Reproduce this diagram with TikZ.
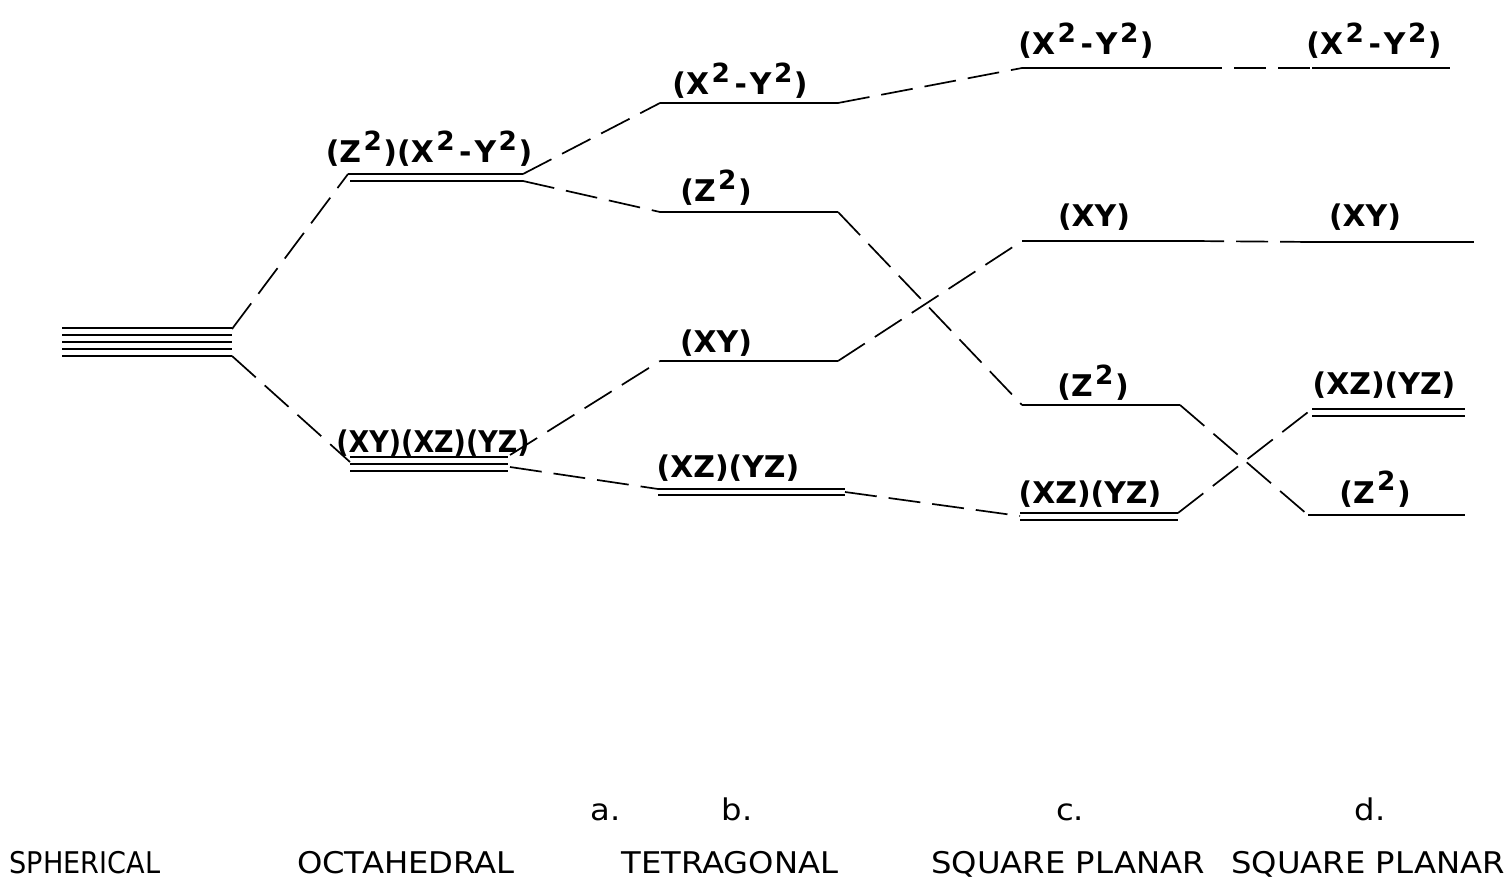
\documentclass[tikz,border=0pt]{standalone}
\usepackage{fontspec}
\setmainfont{DejaVu Sans}
\newfontfamily\capfont[FakeStretch=1.08]{DejaVu Sans}
\usetikzlibrary{calc}
\newcommand{\sqtwo}{\kern0.25mm\raisebox{1.25mm}{\fontsize{7.5}{7.5}\selectfont 2}\kern0.15mm}
\newcommand{\mns}{\kern0.3mm-\kern0.3mm}

\begin{document}
\begin{tikzpicture}[
  x=0.1mm,y=-0.1mm,
  every node/.style={font=\bfseries\fontsize{8.5}{10}\selectfont,inner sep=0pt,anchor=base},
  caption/.style={font=\capfont\fontsize{8.5}{10}\selectfont},
  lvl/.style={line width=0.28mm},
  link/.style={line width=0.17mm,dash pattern=on 3.2mm off 1.2mm}
]
\useasboundingbox (0,0) rectangle (1506,880);

% spherical
\foreach \y in {328,335,342,349,356}
  \draw[lvl] (62,\y) -- (232,\y);
\coordinate (sph-t) at (232,329);
\coordinate (sph-b) at (232,356);

% octahedral
\coordinate (eg-l) at (348,174);  \coordinate (eg-r) at (523,174);
\coordinate (eg-l2) at (350,181); \coordinate (eg-r2) at (523,181);
\draw[lvl] (eg-l) -- (eg-r);
\draw[lvl] (eg-l2) -- (eg-r2);
\node (eg) at (429,163) {(Z\sqtwo)(X\sqtwo\mns Y\sqtwo)};

\coordinate (t2-l) at (350,457); \coordinate (t2-r) at (508,457);
\coordinate (t2-l3) at (350,471); \coordinate (t2-r3) at (508,471);
\draw[lvl] (t2-l) -- (t2-r);
\draw[lvl] ($(t2-l)+(0,7)$) -- ($(t2-r)+(0,7)$);
\draw[lvl] (t2-l3) -- (t2-r3);
\node (t2) at (433,452) {\scalebox{0.9}[1]{(XY)(XZ)(YZ)}};

% tetragonal
\coordinate (tx-l) at (660,103);  \coordinate (tx-r) at (838,103);
\coordinate (tz-l) at (660,212);  \coordinate (tz-r) at (838,212);
\coordinate (txy-l) at (660,361); \coordinate (txy-r) at (838,361);
\coordinate (txz-l) at (658,489); \coordinate (txz-r) at (845,489);
\draw[lvl] (tx-l) -- (tx-r);
\draw[lvl] (tz-l) -- (tz-r);
\draw[lvl] (txy-l) -- (txy-r);
\draw[lvl] (txz-l) -- (txz-r);
\draw[lvl] ($(txz-l)+(0,6)$) -- ($(txz-r)+(0,6)$);
\node (tx) at (740,95) {(X\sqtwo\mns Y\sqtwo)};
\node (tz) at (716,202) {(Z\sqtwo)};
\node (txy) at (716,353) {(XY)};
\node (txz) at (728,477) {(XZ)(YZ)};

% square planar c
\coordinate (cx-l) at (1022,68);   \coordinate (cx-r) at (1190,68);
\coordinate (cxy-l) at (1022,241); \coordinate (cxy-r) at (1192,241);
\coordinate (cz-l) at (1022,405);  \coordinate (cz-r) at (1180,405);
\coordinate (cxz-l) at (1020,513); \coordinate (cxz-r) at (1178,513);
\draw[lvl] (cx-l) -- (cx-r);
\draw[lvl] (cxy-l) -- (cxy-r);
\draw[lvl] (cz-l) -- (cz-r);
\draw[lvl] (cxz-l) -- (cxz-r);
\draw[lvl] ($(cxz-l)+(0,7)$) -- ($(cxz-r)+(0,7)$);
\node (cx) at (1086,55) {(X\sqtwo\mns Y\sqtwo)};
\node (cxy) at (1094,227) {(XY)};
\node (cz) at (1093,397) {(Z\sqtwo)};
\node (cxz) at (1090,503) {(XZ)(YZ)};

% square planar d
\coordinate (dx-l) at (1312,68);   \coordinate (dx-r) at (1450,68);
\coordinate (dxy-l) at (1312,242); \coordinate (dxy-r) at (1474,242);
\coordinate (dxz-l) at (1312,409); \coordinate (dxz-r) at (1465,409);
\coordinate (dz-l) at (1308,515);  \coordinate (dz-r) at (1465,515);
\draw[lvl] (dx-l) -- (dx-r);
\draw[lvl] (dxy-l) -- (dxy-r);
\draw[lvl] (dxz-l) -- (dxz-r);
\draw[lvl] ($(dxz-l)+(0,7)$) -- ($(dxz-r)+(0,7)$);
\draw[lvl] (dz-l) -- (dz-r);
\node (dx) at (1374,55) {(X\sqtwo\mns Y\sqtwo)};
\node (dxy) at (1365,227) {(XY)};
\node (dxz) at (1384,395) {(XZ)(YZ)};
\node (dz) at (1375,503) {(Z\sqtwo)};

% correlations
\draw[link] (sph-t) -- (eg-l);
\draw[link] (sph-b) -- ($(t2-l)+(0,5)$);
\draw[link] (eg-r) -- (tx-l);
\draw[link] (eg-r2) -- (tz-l);
\draw[link] ($(t2-r)+(2,-2)$) -- (txy-l);
\draw[link] ($(t2-r)+(2,10)$) -- (txz-l);
\draw[link] (tx-r) -- (cx-l);
\draw[link] (tz-r) -- (cz-l);
\draw[link] (txy-r) -- (cxy-l);
\draw[link] ($(txz-r)+(0,3)$) -- ($(cxz-l)+(0,3)$);
\draw[link] (cx-r) -- (dx-l);
\draw[link] (cxy-r) -- (dxy-l);
\draw[link] (cz-r) -- (dz-l);
\draw[link] (cxz-r) -- (dxz-l);

% captions
\node[caption] (a) at (606,820) {a.};
\node[caption] (b) at (737,820) {b.};
\node[caption] (c) at (1070,820) {c.};
\node[caption] (d) at (1370,820) {d.};
\node[caption] (sph) at (85,873) {\scalebox{0.84}[1]{SPHERICAL}};
\node[caption] (oct) at (406,873) {OCTAHEDRAL};
\node[caption] (tet) at (730,873) {TETRAGONAL};
\node[caption] (sqc) at (1068,873) {SQUARE PLANAR};
\node[caption] (sqd) at (1368,873) {SQUARE PLANAR};
\end{tikzpicture}
\end{document}
